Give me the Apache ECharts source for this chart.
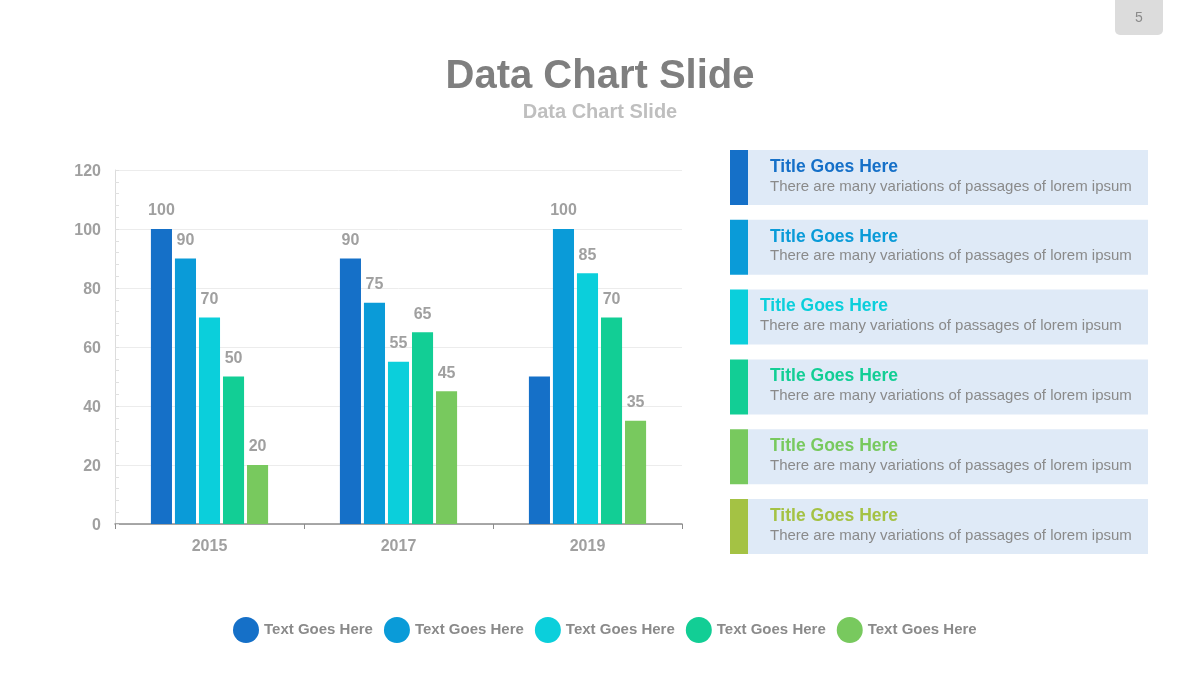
<!DOCTYPE html>
<html>
<head>
<meta charset="utf-8">
<script src="https://cdn.jsdelivr.net/npm/echarts@6/dist/echarts.min.js"></script>
<style>
html,body{margin:0;padding:0;background:#fff;}
#chart{width:1200px;height:680px;}
</style>
</head>
<body>
<div id="chart"></div>
<script>
const categories = ['2015', '2017', '2019'];
const seriesNames = ['Text Goes Here', 'Text Goes Here', 'Text Goes Here', 'Text Goes Here', 'Text Goes Here'];
const series1 = [100, 90, 50];
const series2 = [90, 75, 100];
const series3 = [70, 55, 85];
const series4 = [50, 65, 70];
const series5 = [20, 45, 35];
const hiddenLabel1 = [false, false, true];
const seriesColors = ['#1570C8', '#0A9BD8', '#0BCFDB', '#12CE95', '#78C95E'];
const panelTitles = ['Title Goes Here', 'Title Goes Here', 'Title Goes Here', 'Title Goes Here', 'Title Goes Here', 'Title Goes Here'];
const panelTexts = ['There are many variations of passages of lorem ipsum', 'There are many variations of passages of lorem ipsum', 'There are many variations of passages of lorem ipsum', 'There are many variations of passages of lorem ipsum', 'There are many variations of passages of lorem ipsum', 'There are many variations of passages of lorem ipsum'];
const panelColors = ['#1570C8', '#0A9BD8', '#0BCFDB', '#12CE95', '#78C95E', '#A4C244'];
const mainTitle = 'Data Chart Slide';
const subTitle = 'Data Chart Slide';
const pageNumber = '5';

const FONT = '"Liberation Sans", Arial, sans-serif';
const allSeries = [series1, series2, series3, series4, series5];

const chart = echarts.init(document.getElementById('chart'), null, {renderer: 'canvas'});

const graphics = [];
// page number tab
graphics.push({type: 'rect', shape: {x: 1115, y: -6, width: 48, height: 41, r: 5}, style: {fill: '#DCDCDC'}});
graphics.push({type: 'text', x: 1139, y: 18, style: {text: pageNumber, font: '14px ' + FONT, fill: '#8a8a8a', textAlign: 'center', textVerticalAlign: 'middle'}});

// side panels
panelTitles.forEach((t, i) => {
  const y = 150 + i * 69.8;
  const tx = (i === 2) ? 760 : 770;
  graphics.push({type: 'rect', shape: {x: 748, y: y, width: 400, height: 55}, style: {fill: '#DFEAF7'}});
  graphics.push({type: 'rect', shape: {x: 730, y: y, width: 18, height: 55}, style: {fill: panelColors[i]}});
  graphics.push({type: 'text', x: tx, y: y + 17, style: {text: t, font: 'bold 17.5px ' + FONT, fill: panelColors[i], textVerticalAlign: 'middle'}});
  graphics.push({type: 'text', x: tx, y: y + 36.5, style: {text: panelTexts[i], font: '15px ' + FONT, fill: '#8a8a8a', textVerticalAlign: 'middle'}});
});

const option = {
  backgroundColor: '#ffffff',
  animation: false,
  title: [
    {text: mainTitle, left: 'center', top: 52, textStyle: {fontFamily: FONT, fontSize: 40, fontWeight: 'bold', color: '#7f7f7f'}},
    {text: subTitle, left: 'center', top: 97, textStyle: {fontFamily: FONT, fontSize: 20, fontWeight: 'bold', color: '#bfbfbf'}}
  ],
  legend: {
    bottom: 32,
    left: 228,
    icon: 'circle',
    itemWidth: 26,
    itemHeight: 26,
    itemGap: 11,
    textStyle: {fontFamily: FONT, fontSize: 15, fontWeight: 'bold', color: '#8a8a8a'},
    data: seriesNames.map((n, i) => ({name: n + '\u200b'.repeat(i)}))
  },
  grid: {left: 115, right: 518, top: 170, bottom: 156, containLabel: false},
  xAxis: {
    type: 'category',
    data: categories,
    axisLine: {lineStyle: {color: '#8c8c8c', width: 1.5}},
    axisTick: {show: true, length: 5, lineStyle: {color: '#8c8c8c'}},
    axisLabel: {fontFamily: FONT, fontSize: 16, fontWeight: 'bold', color: '#a0a0a0', margin: 15},
    splitLine: {show: false}
  },
  yAxis: {
    type: 'value',
    min: 0, max: 120, interval: 20,
    axisLine: {show: true, lineStyle: {color: '#dcdcdc'}},
    axisTick: {show: true, inside: true, length: 4, lineStyle: {color: '#e0e0e0'}},
    minorTick: {show: true, splitNumber: 5, length: 4, lineStyle: {color: '#e0e0e0'}},
    axisLabel: {
      margin: 14,
      formatter: '{a|{value}}',
      rich: {a: {fontFamily: FONT, fontSize: 16, fontWeight: 'bold', color: '#a0a0a0', padding: [4, 0, 0, 0]}}
    },
    splitLine: {show: true, lineStyle: {color: '#ececec'}}
  },
  series: allSeries.map((vals, si) => ({
    type: 'bar',
    name: seriesNames[si] + '\u200b'.repeat(si),
    barCategoryGap: '38%',
    barGap: '14%',
    itemStyle: {color: seriesColors[si]},
    label: {show: true, position: 'top', distance: 10, fontFamily: FONT, fontSize: 16, fontWeight: 'bold', color: '#a0a0a0'},
    data: vals.map((v, ci) => (si === 0 && hiddenLabel1[ci]) ? {value: v, label: {show: false}} : v)
  })),
  graphic: graphics
};
chart.setOption(option);
</script>
</body>
</html>
